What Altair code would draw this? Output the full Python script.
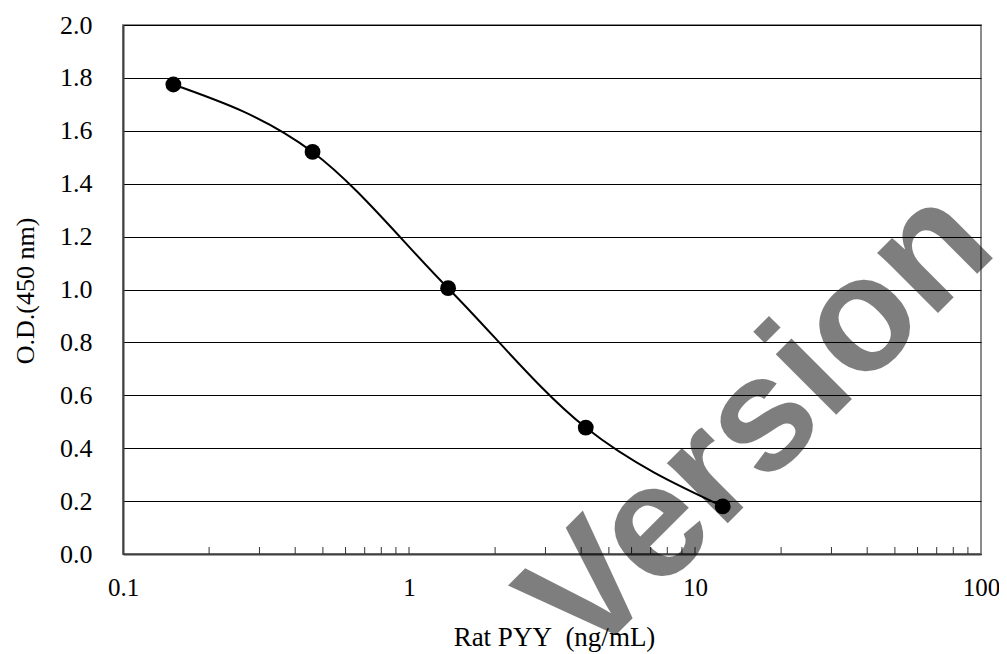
import altair as alt
import pandas as pd

# Data
conc = [0.150, 0.460, 1.37, 4.15, 12.5]
od = [1.775, 1.52, 1.005, 0.478, 0.18]
x_label_values = [0.1, 1, 10, 100]
y_tick_values = [0.0, 0.2, 0.4, 0.6, 0.8, 1.0, 1.2, 1.4, 1.6, 1.8, 2.0]
minor_tick_values = [0.2, 0.3, 0.4, 0.5, 0.6, 0.7, 0.8, 0.9,
                     1, 2, 3, 4, 5, 6, 7, 8, 9,
                     10, 20, 30, 40, 50, 60, 70, 80, 90]
watermark = ["Version"]

df = pd.DataFrame({"conc": conc, "od": od})
ticks_df = pd.DataFrame({"t": minor_tick_values})
wm_df = pd.DataFrame({"w": watermark})

W, H = 858, 529
SERIF = "Liberation Serif"

x_scale = alt.Scale(type="log", domain=[0.1, 100], nice=False)
y_scale = alt.Scale(domain=[0, 2], nice=False)

x_axis = alt.Axis(
    values=x_label_values, format="~g", title="Rat PYY\u00a0 (ng/mL)",
    grid=False, ticks=False, labelPadding=21, labelFlush=False,
    labelFont=SERIF, labelFontSize=25, labelColor="black",
    titleFont=SERIF, titleFontSize=27, titleFontWeight="normal", titleColor="black",
    titleX=W / 2 + 2, titleY=91, titleAlign="center", titleBaseline="alphabetic",
    domainColor="#404040", domainWidth=2,
)
y_axis = alt.Axis(
    values=y_tick_values, format=".1f", title="O.D.(450 nm)",
    grid=True, gridColor="black", gridWidth=1, ticks=False, labelPadding=31,
    labelFlush=False,
    labelFont=SERIF, labelFontSize=26, labelColor="black",
    titleFont=SERIF, titleFontSize=26, titleFontWeight="normal", titleColor="black",
    titleX=-98, titleY=H / 2 + 1, titleAngle=270, titleAlign="center", titleBaseline="middle",
    domainColor="#404040", domainWidth=2,
)

line = alt.Chart(df).mark_line(color="black", strokeWidth=2, interpolate="monotone").encode(
    x=alt.X("conc:Q", scale=x_scale, axis=x_axis),
    y=alt.Y("od:Q", scale=y_scale, axis=y_axis),
)
points = alt.Chart(df).mark_circle(color="black", size=250, opacity=1).encode(
    x=alt.X("conc:Q", scale=x_scale),
    y=alt.Y("od:Q", scale=y_scale),
)
minor = alt.Chart(ticks_df).mark_rule(color="#333333", strokeWidth=1).encode(
    x=alt.X("t:Q", scale=x_scale),
    y=alt.value(H - 7),
    y2=alt.value(H),
)
wm = alt.Chart(wm_df).mark_text(
    font="Liberation Sans", fontWeight="bold", fontSize=162, color="black",
    opacity=0.5, angle=315, align="center", baseline="alphabetic",
).encode(text="w:N", x=alt.value(670), y=alt.value(433))

chart = alt.layer(minor, line, points, wm).properties(
    width=W, height=H,
    autosize=alt.AutoSizeParams(type="none"),
    padding={"left": 115, "top": 17, "right": 18, "bottom": 100},
).configure_view(stroke="#8c8c8c", strokeWidth=2)

chart.save("out.html", embed_options={"renderer": "svg", "actions": False})
